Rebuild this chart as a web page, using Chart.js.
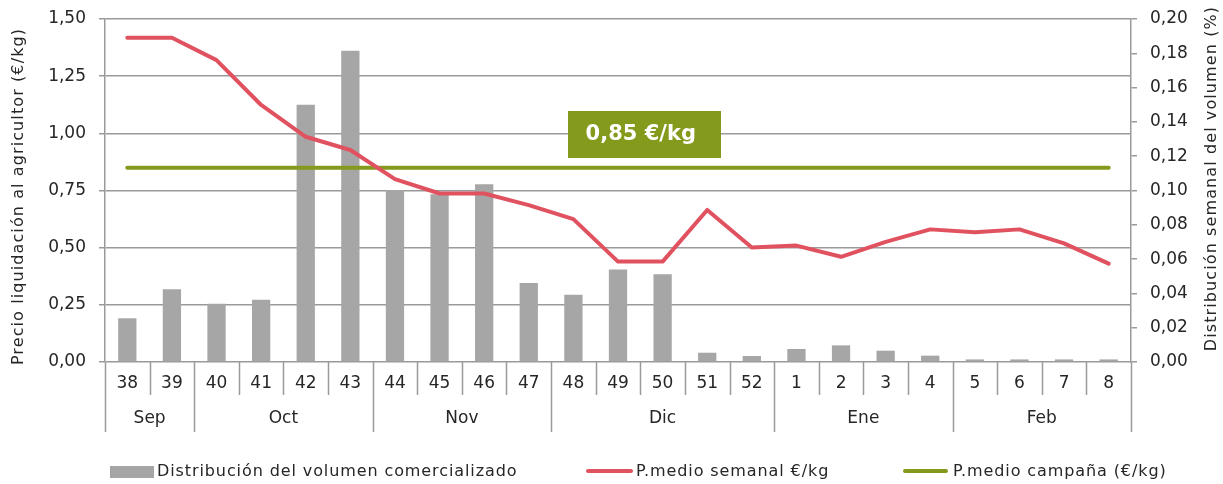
<!DOCTYPE html>
<html>
<head>
<meta charset="utf-8">
<script src="https://cdn.jsdelivr.net/npm/chart.js@4.4.1/dist/chart.umd.min.js"></script>
<style>
html,body{margin:0;padding:0;background:#fff;}
#wrap{width:1223px;height:484px;position:relative;}
</style>
</head>
<body>
<div id="wrap"><canvas id="c"></canvas></div>
<script>
// ---- Data ----
const weeks = ['38','39','40','41','42','43','44','45','46','47','48','49','50','51','52','1','2','3','4','5','6','7','8'];
const months = ['Sep','Oct','Nov','Dic','Ene','Feb'];
const monthWeekCounts = [2,4,4,5,4,4];
const volumeShare = [0.0255,0.0424,0.0340,0.0363,0.1500,0.1815,0.1003,0.0978,0.1036,0.0460,0.0392,0.0540,0.0511,0.0054,0.0035,0.0076,0.0097,0.0066,0.0037,0.0015,0.0015,0.0015,0.0015];
const weeklyPrice = [1.418,1.418,1.320,1.124,0.985,0.927,0.800,0.737,0.737,0.686,0.625,0.439,0.439,0.665,0.501,0.509,0.460,0.525,0.580,0.567,0.580,0.519,0.430];
const campaignPrice = [0.85,0.85,0.85,0.85,0.85,0.85,0.85,0.85,0.85,0.85,0.85,0.85,0.85,0.85,0.85,0.85,0.85,0.85,0.85,0.85,0.85,0.85,0.85];
const leftTicks = [0,0.25,0.5,0.75,1,1.25,1.5];
const rightTicks = [0,0.02,0.04,0.06,0.08,0.10,0.12,0.14,0.16,0.18,0.20];
const campaignLabel = '0,85 €/kg';
const leftTitle = 'Precio liquidación al agricultor (€/kg)';
const rightTitle = 'Distribución semanal del volumen (%)';

const FONT = '"DejaVu Sans", sans-serif';
const GRID = '#9a9a9a';
const TXT = '#262626';
const C_BAR = '#a6a6a6';
const C_RED = '#e0525f';
const C_GREEN = '#849a1c';

const fmt = v => v.toFixed(2).replace('.', ',');

const overlay = {
  id: 'overlay',
  afterDraw(chart) {
    const ctx = chart.ctx;
    const xs = chart.scales.x, yl = chart.scales.y;
    const ca = chart.chartArea;
    const n = weeks.length;
    const bnd = i => i === 0 ? ca.left : (i === n ? ca.right : (xs.getPixelForValue(i - 1) + xs.getPixelForValue(i)) / 2);
    const monthBounds = [0];
    let acc = 0;
    monthWeekCounts.forEach(c => { acc += c; monthBounds.push(acc); });
    ctx.save();
    ctx.strokeStyle = GRID;
    ctx.lineWidth = 1.5;
    for (let i = 0; i <= n; i++) {
      const x = Math.round(bnd(i)) + 0.5;
      const long = monthBounds.includes(i);
      ctx.beginPath();
      ctx.moveTo(x, ca.bottom);
      ctx.lineTo(x, ca.bottom + (long ? 70 : 33));
      ctx.stroke();
    }
    ctx.fillStyle = TXT;
    ctx.font = '17px ' + FONT;
    ctx.textAlign = 'center';
    ctx.textBaseline = 'middle';
    for (let m = 0; m < months.length; m++) {
      const x = (bnd(monthBounds[m]) + bnd(monthBounds[m + 1])) / 2;
      ctx.fillText(months[m], x, ca.bottom + 57);
    }
    ctx.font = '16px ' + FONT;
    ctx.letterSpacing = '1.1px';
    ctx.save();
    ctx.translate(19, (ca.top + ca.bottom) / 2 + 6);
    ctx.rotate(-Math.PI / 2);
    ctx.fillText(leftTitle, 0, 0);
    ctx.restore();
    ctx.save();
    ctx.translate(1212, (ca.top + ca.bottom) / 2 - 12);
    ctx.rotate(-Math.PI / 2);
    ctx.fillText(rightTitle, 0, 0);
    ctx.restore();
    ctx.letterSpacing = '0px';
    const cx = xs.getPixelForValue(11.6);
    const cy = yl.getPixelForValue(0.997);
    const bw = 153, bh = 47;
    ctx.fillStyle = C_GREEN;
    ctx.fillRect(Math.round(cx - bw / 2), Math.round(cy - bh / 2), bw, bh);
    ctx.fillStyle = '#ffffff';
    ctx.font = 'bold 21px ' + FONT;
    ctx.fillText(campaignLabel, cx - 4, cy + 1);
    const ly = 471;
    ctx.font = '16px ' + FONT;
    ctx.letterSpacing = '0.9px';
    ctx.textAlign = 'left';
    ctx.fillStyle = C_BAR;
    ctx.fillRect(110, ly - 5, 44, 12);
    ctx.fillStyle = TXT;
    ctx.fillText(chart.data.datasets[2].label, 157, ly + 1);
    ctx.lineCap = 'round';
    ctx.lineWidth = 4;
    ctx.strokeStyle = C_RED;
    ctx.beginPath(); ctx.moveTo(588, ly); ctx.lineTo(631, ly); ctx.stroke();
    ctx.fillText(chart.data.datasets[0].label, 636, ly + 1);
    ctx.strokeStyle = C_GREEN;
    ctx.beginPath(); ctx.moveTo(905, ly); ctx.lineTo(946, ly); ctx.stroke();
    ctx.fillText(chart.data.datasets[1].label, 953, ly + 1);
    ctx.restore();
  }
};

new Chart(document.getElementById('c'), {
  data: {
    labels: weeks,
    datasets: [
      { type: 'line', label: 'P.medio semanal €/kg', data: weeklyPrice, yAxisID: 'y', borderColor: C_RED, backgroundColor: C_RED, borderWidth: 4, pointRadius: 0, tension: 0, borderCapStyle: 'round', borderJoinStyle: 'round', order: 1 },
      { type: 'line', label: 'P.medio campaña (€/kg)', data: campaignPrice, yAxisID: 'y', borderColor: C_GREEN, backgroundColor: C_GREEN, borderWidth: 4, pointRadius: 0, borderCapStyle: 'round', order: 2 },
      { type: 'bar', label: 'Distribución del volumen comercializado', data: volumeShare, yAxisID: 'y1', backgroundColor: C_BAR, barPercentage: 0.41, categoryPercentage: 1, order: 3 }
    ]
  },
  options: {
    responsive: true,
    maintainAspectRatio: false,
    animation: false,
    devicePixelRatio: 1,
    layout: { padding: { top: 19, bottom: 0, left: 0, right: 0 } },
    plugins: { legend: { display: false }, tooltip: { enabled: false } },
    scales: {
      x: {
        type: 'category',
        offset: true,
        grid: { display: false, drawTicks: false },
        border: { display: false },
        ticks: { color: TXT, font: { family: FONT, size: 17 }, padding: 11, maxRotation: 0, autoSkip: false },
        afterFit(s) { s.height = 122; s.paddingLeft = 0; s.paddingRight = 0; }
      },
      y: {
        position: 'left',
        min: 0, max: 1.5,
        afterBuildTicks(s) { s.ticks = leftTicks.map(v => ({ value: v })); },
        ticks: { color: TXT, font: { family: FONT, size: 17 }, padding: 13, callback: v => fmt(v) },
        grid: { color: GRID, lineWidth: 1.5, tickLength: 6 },
        border: { display: true, color: GRID, width: 1.5 },
        afterFit(s) { s.width = 105; s.paddingTop = 0; s.paddingBottom = 0; }
      },
      y1: {
        position: 'right',
        min: 0, max: 0.2,
        afterBuildTicks(s) { s.ticks = rightTicks.map(v => ({ value: v })); },
        ticks: { color: TXT, font: { family: FONT, size: 17 }, padding: 13, callback: v => fmt(v) },
        grid: { drawOnChartArea: false, color: GRID, lineWidth: 1.5, tickLength: 6 },
        border: { display: true, color: GRID, width: 1.5 },
        afterFit(s) { s.width = 92; s.paddingTop = 0; s.paddingBottom = 0; }
      }
    }
  },
  plugins: [overlay]
});
</script>
</body>
</html>
